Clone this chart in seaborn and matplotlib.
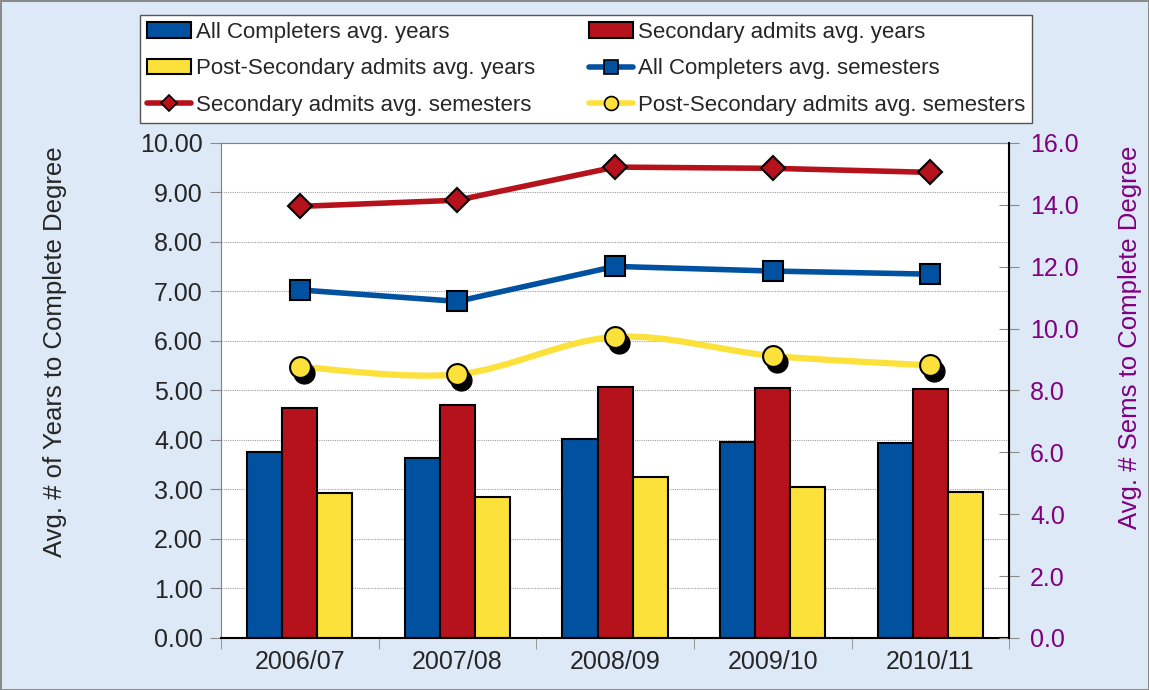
import matplotlib
matplotlib.use("Agg")
import matplotlib.pyplot as plt
import matplotlib.transforms as mtransforms
import numpy as np
import pandas as pd
import seaborn as sns
from matplotlib.lines import Line2D
from matplotlib.patches import Patch, PathPatch
from matplotlib.path import Path

# Data
years = ["2006/07", "2007/08", "2008/09", "2009/10", "2010/11"]
all_years = [3.76, 3.63, 4.01, 3.95, 3.93]
sec_years = [4.65, 4.71, 5.08, 5.06, 5.02]
post_years = [2.92, 2.84, 3.25, 3.05, 2.94]
all_sems = [11.25, 10.88, 12.01, 11.86, 11.76]
sec_sems = [13.95, 14.15, 15.22, 15.18, 15.05]
post_sems = [8.76, 8.52, 9.73, 9.12, 8.81]

bar_names = ["All Completers avg. years", "Secondary admits avg. years",
             "Post-Secondary admits avg. years"]
line_names = ["All Completers avg. semesters", "Secondary admits avg. semesters",
              "Post-Secondary admits avg. semesters"]

BLUE = "#0052a0"
RED = "#b5121b"
YELLOW = "#fde13b"
PURPLE = "#800080"
BG = "#dde9f6"

sns.set_style("white")
plt.rcParams["font.family"] = ["Liberation Sans", "DejaVu Sans"]

fig = plt.figure(figsize=(11.49, 6.9), dpi=100)
fig.patch.set_facecolor(BG)
fig.patch.set_edgecolor("#8a8a8a")
fig.patch.set_linewidth(2)

ax = fig.add_axes([0.1923, 0.0754, 0.8783 - 0.1923, 0.7928 - 0.0754])
ax.set_facecolor("white")

bars = pd.DataFrame({
    "year": years * 3,
    "value": all_years + sec_years + post_years,
    "series": np.repeat(bar_names, len(years)),
})
sns.barplot(data=bars, x="year", y="value", hue="series", order=years,
            hue_order=bar_names, palette=[BLUE, RED, YELLOW], width=0.667,
            edgecolor="black", linewidth=1.5, saturation=1, legend=False, ax=ax)

ax.set_xlim(-0.5, 4.5)
ax.set_ylim(0, 10)
ax.set_yticks(np.arange(0, 10.5, 1))
ax.set_yticklabels([f"{v:.2f}" for v in np.arange(0, 10.5, 1)])
ax.grid(axis="y", color="#a0a0a0", linestyle=(0, (1, 1)), linewidth=0.8)
ax.set_axisbelow(True)
ax.set_xlabel("")
ax.set_ylabel("Avg. # of Years to Complete Degree", fontsize=18.5)
ax.yaxis.set_label_coords(-0.195, 0.578)
ax.tick_params(axis="y", labelsize=18, length=8, color="#8a8a8a", pad=5, left=True)
ax.set_xticks(np.arange(-0.5, 5, 1), minor=True)
ax.tick_params(axis="x", which="major", length=0, labelsize=18, pad=9)
ax.tick_params(axis="x", which="minor", length=8, color="#8a8a8a", bottom=True)
for side in ["left", "top"]:
    ax.spines[side].set_color("#808080")
ax.spines["bottom"].set_color("black")
ax.spines["bottom"].set_linewidth(1.5)

# secondary axis for semesters
ax2 = ax.twinx()
ax2.set_ylim(0, 16)
ax2.set_yticks(np.arange(0, 16.5, 2))
ax2.set_yticklabels([f"{v:.1f}" for v in np.arange(0, 16.5, 2)])
ax2.tick_params(axis="y", labelsize=18, labelcolor=PURPLE, length=14,
                direction="inout", color="#8a8a8a", pad=8)
ax2.set_ylabel("Avg. # Sems to Complete Degree", fontsize=18.5, color=PURPLE)
ax2.yaxis.set_label_coords(1.138, 0.608)
ax2.spines["right"].set_color("black")
ax2.spines["right"].set_linewidth(1.5)
ax2.spines["top"].set_visible(False)
ax2.spines["left"].set_visible(False)
ax2.spines["bottom"].set_visible(False)

xpos = np.arange(len(years))
sns.lineplot(x=xpos, y=all_sems, color=BLUE, linewidth=4, marker="s",
             markersize=15, markeredgecolor="black", markeredgewidth=1.5, ax=ax2)
sns.lineplot(x=xpos, y=sec_sems, color=RED, linewidth=4, marker="D",
             markersize=12, markeredgecolor="black", markeredgewidth=1.5, ax=ax2)

# smoothed yellow line (Bezier through the points, like a spreadsheet smooth line)
pts = np.column_stack([xpos, post_sems])
verts = [tuple(pts[0])]
codes = [Path.MOVETO]
for i in range(len(pts) - 1):
    p0 = pts[max(i - 1, 0)]
    p1 = pts[i]
    p2 = pts[i + 1]
    p3 = pts[min(i + 2, len(pts) - 1)]
    c1 = p1 + (p2 - p0) / 6
    c2 = p2 - (p3 - p1) / 6
    verts += [tuple(c1), tuple(c2), tuple(p2)]
    codes += [Path.CURVE4] * 3
ax2.add_patch(PathPatch(Path(verts, codes), facecolor="none", edgecolor=YELLOW,
                        linewidth=4.5, capstyle="round", zorder=2))
shadow = mtransforms.offset_copy(ax2.transData, fig=fig, x=4, y=-6, units="dots")
ax2.plot(xpos, post_sems, linestyle="none", marker="o", markersize=15,
         color="black", transform=shadow, zorder=2.5)
ax2.plot(xpos, post_sems, linestyle="none", marker="o", markersize=15,
         markerfacecolor=YELLOW, markeredgecolor="black", markeredgewidth=1.5,
         zorder=3)

ax.set_xlim(-0.5, 4.5)
ax2.set_xlim(-0.5, 4.5)

# legend (row-wise order as in the reference)
h_all = Patch(facecolor=BLUE, edgecolor="black", linewidth=1.5)
h_sec = Patch(facecolor=RED, edgecolor="black", linewidth=1.5)
h_post = Patch(facecolor=YELLOW, edgecolor="black", linewidth=1.5)
l_all = Line2D([], [], color=BLUE, linewidth=4, marker="s", markersize=10,
               markeredgecolor="black", markeredgewidth=1.2)
l_sec = Line2D([], [], color=RED, linewidth=4, marker="D", markersize=8,
               markeredgecolor="black", markeredgewidth=1.2)
l_post = Line2D([], [], color=YELLOW, linewidth=4, marker="o", markersize=10,
                markerfacecolor=YELLOW, markeredgecolor="black", markeredgewidth=1.2)
handles = [h_all, h_post, l_sec, h_sec, l_all, l_post]
labels = [bar_names[0], bar_names[2], line_names[1],
          bar_names[1], line_names[0], line_names[2]]
leg = fig.legend(handles, labels, ncol=2, loc="upper center",
                 bbox_to_anchor=(0.51, 0.978),
                 fontsize=16, frameon=True, fancybox=False, edgecolor="#555555",
                 framealpha=1, handlelength=2.0, handletextpad=0.22,
                 labelspacing=0.7, borderaxespad=0, borderpad=0.3,
                 columnspacing=2.4)
leg.get_frame().set_linewidth(1)

fig.savefig("out.png", dpi=100, facecolor=fig.get_facecolor(),
            edgecolor=fig.get_edgecolor())
